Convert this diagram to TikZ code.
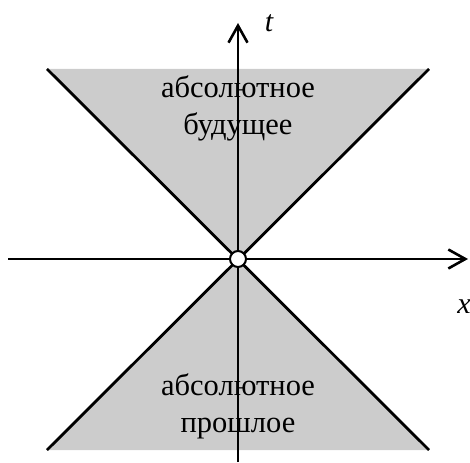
\documentclass[tikz,border=0pt]{standalone}
\usepackage{fontspec}
\setmainfont{Liberation Serif}
\usepackage{xcolor}
\definecolor{ConeGray}{HTML}{CCCCCC}
\usepackage{tikz}
\usetikzlibrary{arrows.meta}
\tikzset{
  axis/.style={-{Straight Barb[length=17pt,width=19pt]}, line width=2.6pt},
  cone/.style={line width=2.8pt},
  lbl/.style={align=center, font=\fontsize{30.5}{37}\selectfont},
  axlbl/.style={font=\fontsize{30}{35}\selectfont\itshape},
  event/.style={circle, draw, fill=white, line width=2pt, minimum size=16pt, inner sep=0pt},
}

\begin{document}
\begin{tikzpicture}[x=1pt, y=-1pt]
\useasboundingbox (0,0) rectangle (470,462);

% cone corners and axis ends
\coordinate (o) at (238,259);
\coordinate (ul) at (47,69);
\coordinate (ur) at (429,69);
\coordinate (ll) at (47,450);
\coordinate (lr) at (429,450);
\coordinate (xl) at (8,259);
\coordinate (xr) at (468,259);
\coordinate (tb) at (238,462);
\coordinate (tt) at (238,23);

% shaded future and past
\fill[ConeGray] (ul) -- (ur) -- (o) -- cycle;
\fill[ConeGray] (ll) -- (lr) -- (o) -- cycle;

\node[lbl, anchor=base] (fut) at (238,135) {абсолютное\\будущее};
\node[lbl, anchor=base] (past) at (238,432) {абсолютное\\прошлое};

% light lines
\draw[cone] (ul) -- (lr);
\draw[cone] (ur) -- (ll);

% axes
\draw[axis] (xl) -- (xr);
\draw[axis] (tb) -- (tt);
\node[axlbl, anchor=base] (tlab) at (269,32) {t};
\node[axlbl, anchor=base] (xlab) at (464,313) {x};

\node[event] (ev) at (o) {};
\end{tikzpicture}
\end{document}
